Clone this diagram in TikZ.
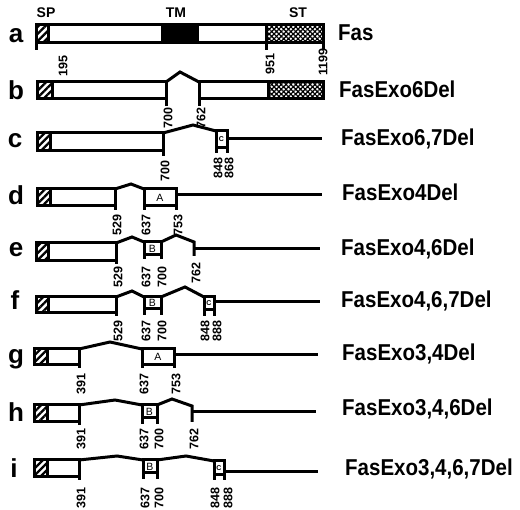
\documentclass[tikz,border=0pt]{standalone}
\usepackage{fontspec}
\setmainfont{Liberation Sans}
\usetikzlibrary{patterns.meta}
\newcommand\exonbox[6]{%
  \draw[ln] (#1,#5) -- (#1,#3) -- (#2,#3) -- (#2,#5);
  \draw[ln] (#1,#4) -- (#2,#4);
  \node[ex] at ({(#1+#2)/2},{(#3+#4)/2}) {#6};}
\begin{document}
\begin{tikzpicture}[x=1pt,y=-1pt,
 ln/.style={line width=3pt},
 boxw/.style={ln, fill=white},
 spfill/.style={ln, pattern={Lines[angle=45,distance=5pt,line width=2.3pt]}},
 stfill/.style={ln, pattern={Hatch[angle=45,distance=3.4pt,line width=1.2pt]}},
 num/.style={rotate=90, anchor=east, font=\bfseries\fontsize{12.5}{12.5}\selectfont, inner sep=0pt},
 rowlet/.style={anchor=base, font=\bfseries\fontsize{26}{26}\selectfont, inner sep=0pt},
 fname/.style={anchor=base west, font=\bfseries\fontsize{20.5}{24}\selectfont, inner sep=0pt},
 hdr/.style={font=\bfseries\fontsize{14}{14}\selectfont, inner sep=0pt},
 ex/.style={font=\fontsize{10.5}{10.5}\selectfont, inner sep=0pt},
 exs/.style={font=\bfseries\fontsize{7}{7}\selectfont, inner sep=0pt}]
\useasboundingbox (0,0) rectangle (520,510);
% header
\node[hdr] (sp) at (46,13) {SP};
\node[hdr] (tm) at (176,13) {TM};
\node[hdr] (st) at (298,13) {ST};
% row letters
\node[rowlet] (la) at (16,43) {a};
\node[rowlet] (lb) at (16,100) {b};
\node[rowlet] (lc) at (15,148) {c};
\node[rowlet] (ld) at (16,205) {d};
\node[rowlet] (le) at (16,257) {e};
\node[rowlet] (lf) at (15,310) {f};
\node[rowlet] (lg) at (16,364) {g};
\node[rowlet] (lh) at (16,422) {h};
\node[rowlet] (li) at (14,478) {i};
% names
\node[fname] (na) at (338,41) {\scalebox{1}[1.12]{Fas}};
\node[fname] (nb) at (339,98) {\scalebox{1}[1.12]{FasExo6Del}};
\node[fname] (nc) at (341,146) {\scalebox{1}[1.12]{FasExo6,7Del}};
\node[fname] (nd) at (342,201) {\scalebox{1}[1.12]{FasExo4Del}};
\node[fname] (ne) at (341,256) {\scalebox{1}[1.12]{FasExo4,6Del}};
\node[fname] (nf) at (341,308) {\scalebox{1}[1.12]{FasExo4,6,7Del}};
\node[fname] (ng) at (342,361) {\scalebox{1}[1.12]{FasExo3,4Del}};
\node[fname] (nh) at (342,416) {\scalebox{1}[1.12]{FasExo3,4,6Del}};
\node[fname] (ni) at (345,476) {\scalebox{1}[1.12]{FasExo3,4,6,7Del}};
% ---- row a
\draw[boxw] (36,25) rectangle (323,43);
\draw[spfill] (36,25) rectangle (48,43);
\draw[ln, fill=black] (162,25) rectangle (197,43);
\draw[stfill] (266,25) rectangle (323,43);
\draw[ln] (36,43) -- (36,50) (266,43) -- (266,50) (323,43) -- (323,50);
\node[num] (a195) at (63,55) {195};
\node[num] (a951) at (270,53) {951};
\node[num] (a1199) at (323,48) {1199};
% ---- row b
\draw[boxw] (37,82) rectangle (166,99);
\draw[spfill] (37,82) rectangle (52,99);
\draw[ln] (166,82) -- (180,72) -- (199,82);
\draw[boxw] (199,82) rectangle (323,99);
\draw[stfill] (268,82) rectangle (323,99);
\draw[ln] (166,99) -- (166,106) (199,99) -- (199,106);
\node[num] (b700) at (168,107) {700};
\node[num] (b762) at (201,107) {762};
% ---- row c
\draw[boxw] (37,133) rectangle (163,151);
\draw[spfill] (37,133) rectangle (50,151);
\draw[ln] (163,151) -- (163,156);
\draw[ln] (163,133) -- (193,125) -- (216,131);
\exonbox{216}{227}{131}{148}{153}{}
\node[exs] (cc) at (221.5,139.5) {C};
\draw[ln] (227,139) -- (322,139);
\node[num] (c700) at (165,160) {700};
\node[num] (c848) at (218,157) {848};
\node[num] (c868) at (229,157) {868};
% ---- row d
\draw[boxw] (37,189) rectangle (115,206);
\draw[spfill] (37,189) rectangle (50,206);
\draw[ln] (115,206) -- (115,210);
\draw[ln] (115,189) -- (131,184) -- (144,189);
\exonbox{144}{176}{189}{206}{210}{A}
\draw[ln] (176,195) -- (322,195);
\node[num] (d529) at (117,214) {529};
\node[num] (d637) at (146,214) {637};
\node[num] (d753) at (178,214) {753};
% ---- row e
\draw[boxw] (36,243) rectangle (116,261);
\draw[spfill] (36,243) rectangle (48,261);
\draw[ln] (116,261) -- (116,264);
\draw[ln] (116,243) -- (132,237) -- (144,242);
\exonbox{144}{161}{242}{255}{259}{B}
\draw[ln] (161,242) -- (176,235) -- (194,242) -- (194,256);
\draw[ln] (194,249) -- (320,249);
\node[num] (e529) at (118,266) {529};
\node[num] (e637) at (146,266) {637};
\node[num] (e700) at (162,266) {700};
\node[num] (e762) at (196,262) {762};
% ---- row f
\draw[boxw] (36,297) rectangle (116,313);
\draw[spfill] (36,297) rectangle (48,313);
\draw[ln] (116,313) -- (116,316);
\draw[ln] (116,297) -- (132,291) -- (144,297);
\exonbox{144}{161}{297}{309}{315}{B}
\draw[ln] (161,297) -- (185,287) -- (204,297);
\exonbox{204}{214}{297}{310}{316}{}
\node[exs] (fc) at (209,303.5) {C};
\draw[ln] (214,302) -- (320,302);
\node[num] (f529) at (118,320) {529};
\node[num] (f637) at (146,320) {637};
\node[num] (f700) at (162,320) {700};
\node[num] (f848) at (205,320) {848};
\node[num] (f888) at (217,320) {888};
% ---- row g
\draw[boxw] (34,349) rectangle (79,365);
\draw[spfill] (34,349) rectangle (47,365);
\draw[ln] (79,365) -- (79,368);
\draw[ln] (79,349) -- (110,342) -- (142,349);
\exonbox{142}{174}{349}{365}{368}{A}
\draw[ln] (174,355) -- (318,355);
\node[num] (g391) at (81,373) {391};
\node[num] (g637) at (144,373) {637};
\node[num] (g753) at (176,373) {753};
% ---- row h
\draw[boxw] (34,405) rectangle (79,422);
\draw[spfill] (34,405) rectangle (47,422);
\draw[ln] (79,422) -- (79,425);
\draw[ln] (79,405) -- (115,400) -- (142,405);
\exonbox{142}{157}{405}{418}{424}{B}
\draw[ln] (157,405) -- (172,399) -- (192,406) -- (192,422);
\draw[ln] (192,412) -- (316,412);
\node[num] (h391) at (81,428) {391};
\node[num] (h637) at (144,428) {637};
\node[num] (h700) at (159,428) {700};
\node[num] (h762) at (194,428) {762};
% ---- row i
\draw[boxw] (34,460) rectangle (79,477);
\draw[spfill] (34,460) rectangle (47,477);
\draw[ln] (79,477) -- (79,480);
\draw[ln] (79,460) -- (117,456) -- (143,460);
\exonbox{143}{157}{460}{473}{479}{B}
\draw[ln] (157,460) -- (186,456) -- (214,461);
\exonbox{214}{224}{461}{475}{480}{}
\node[exs] (ic) at (219,468) {C};
\draw[ln] (224,472) -- (318,472);
\node[num] (i391) at (81,487) {391};
\node[num] (i637) at (145,487) {637};
\node[num] (i700) at (159,487) {700};
\node[num] (i848) at (215,487) {848};
\node[num] (i888) at (228,487) {888};
\end{tikzpicture}
\end{document}
